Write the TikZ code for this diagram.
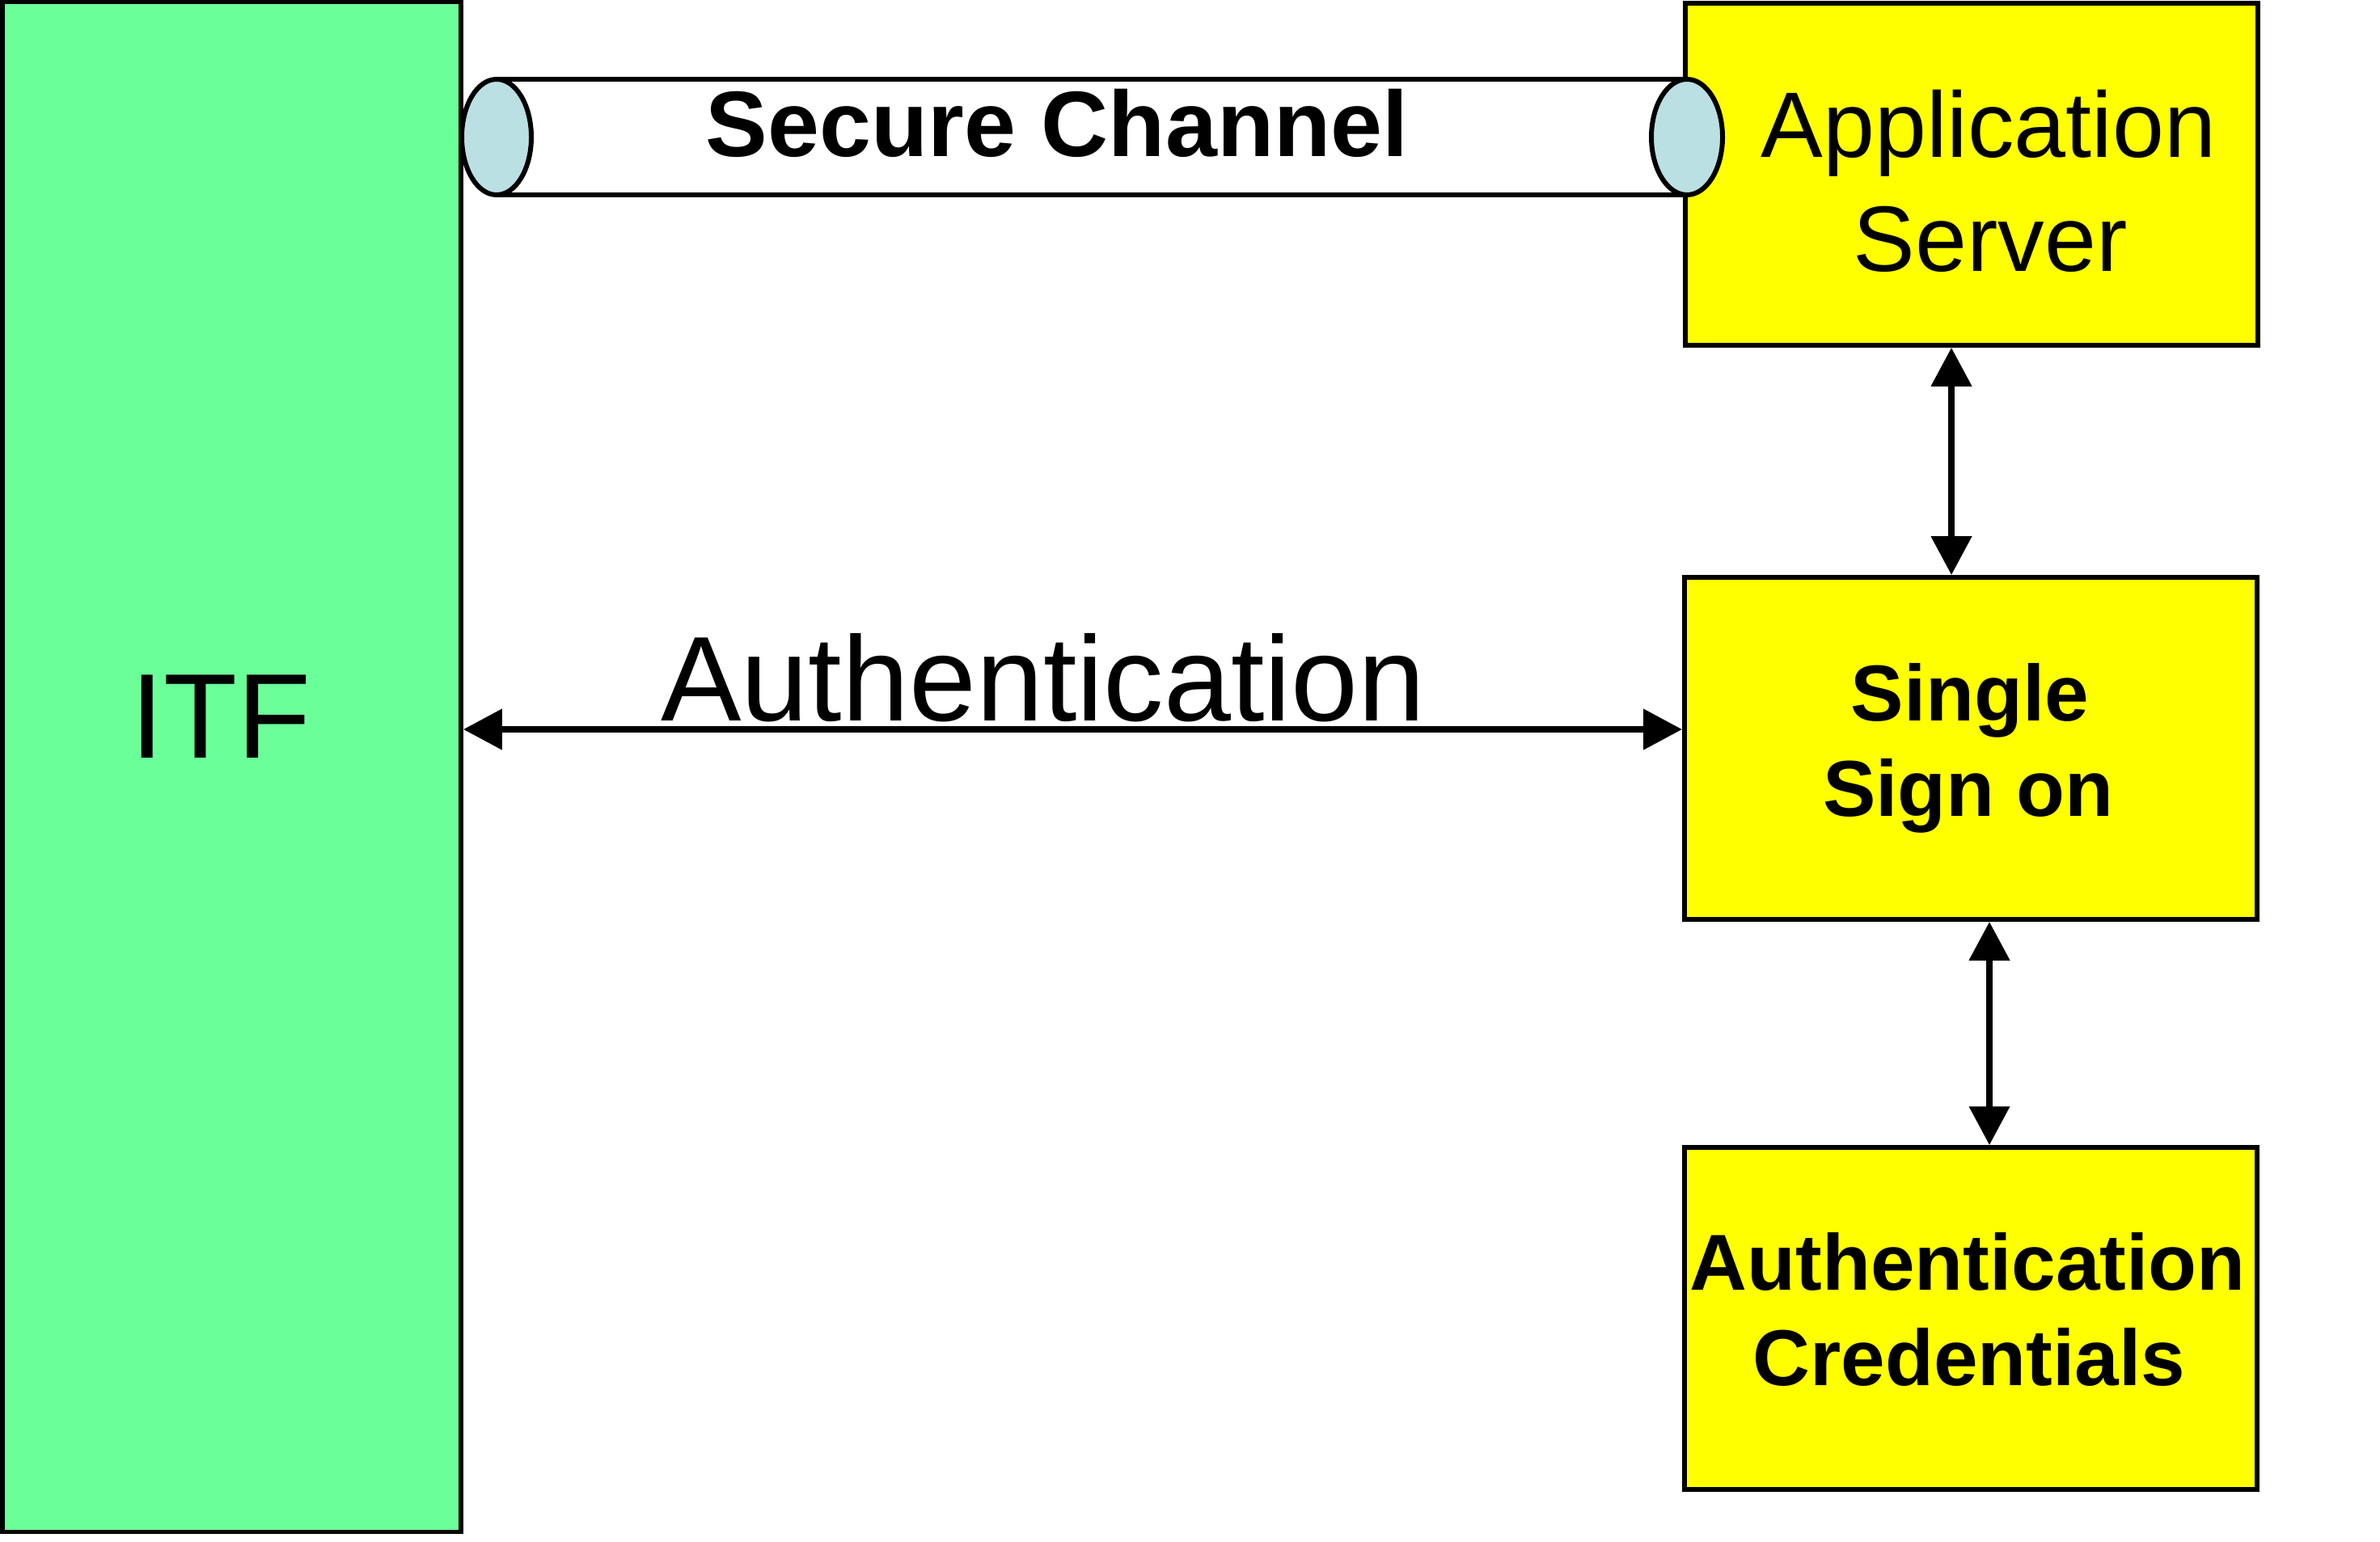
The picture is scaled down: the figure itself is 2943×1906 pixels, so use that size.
\documentclass[tikz,border=0pt]{standalone}
\usepackage{fontspec}
\setmainfont{Liberation Sans}
\usetikzlibrary{arrows.meta}
\definecolor{itfgreen}{RGB}{107,255,153}
\definecolor{boxyellow}{RGB}{255,255,0}
\definecolor{canblue}{RGB}{187,224,227}
\begin{document}
\begin{tikzpicture}[x=0.01cm, y=-0.01cm,
  box/.style={draw=black, line width=1.6pt, inner sep=0pt},
  ybox/.style={box, fill=boxyellow, minimum width=7.08cm, minimum height=4.23cm},
  tipx/.style={Triangle[length=13.6pt,width=13.9pt]},
  dbl/.style={line width=2.2pt, {Triangle[length=13.6pt,width=13.9pt]}-{Triangle[length=13.6pt,width=13.9pt]}},
  bigtxt/.style={font=\fontsize{42.4pt}{50pt}\selectfont, inner sep=0pt, anchor=base},
  midtxt/.style={font=\fontsize{32.7pt}{39pt}\selectfont, inner sep=0pt, anchor=base},
  midbold/.style={font=\fontsize{32.7pt}{39pt}\selectfont\bfseries, inner sep=0pt, anchor=base},
  smbold/.style={font=\fontsize{27.9pt}{33pt}\selectfont\bfseries, inner sep=0pt, anchor=base},
  canline/.style={line width=1.7pt}]
\useasboundingbox (0,0) rectangle (2943,1906);

% boxes
\node[box, fill=itfgreen, minimum width=5.67cm, minimum height=18.91cm] (itf) at (286.5,948.5) {};
\node[ybox] (app) at (2438,215.5) {};
\node[ybox] (sso) at (2437,925.5) {};
\node[ybox] (ac) at (2437,1630.5) {};

% secure channel (horizontal can)
\fill[white] (614,98) rectangle (2086,241);
\draw[canline] (614,98) -- (2086,98) (614,241) -- (2086,241);
\draw[canline, fill=canblue] (614,169.5) ellipse [x radius=43, y radius=71.5];
\draw[canline, fill=canblue] (2086,169.5) ellipse [x radius=44, y radius=71.5];
\node[midbold] (sc) at (1307,193) {Secure Channel};

% connectors
\coordinate (ax1) at (2413,0);
\coordinate (ax2) at (2460,0);
\coordinate (ay) at (0,902);
\draw[dbl] (app.south -| ax1) -- (sso.north -| ax1);
\draw[dbl] (sso.south -| ax2) -- (ac.north -| ax2);
\draw[dbl] (itf.east |- ay) -- (sso.west |- ay);

% texts
\node[bigtxt] (itft) at (273,937) {ITF};
\node[bigtxt] (authl) at (1290,891) {Authentication};
\node[midtxt] (app1) at (2459,195) {Application};
\node[midtxt] (app2) at (2461,335) {Server};
\node[smbold] (sso1) at (2436,891) {Single};
\node[smbold] (sso2) at (2434,1009) {Sign on};
\node[smbold] (ac1) at (2433,1595) {Authentication};
\node[smbold] (ac2) at (2435,1713) {Credentials};
\end{tikzpicture}
\end{document}
